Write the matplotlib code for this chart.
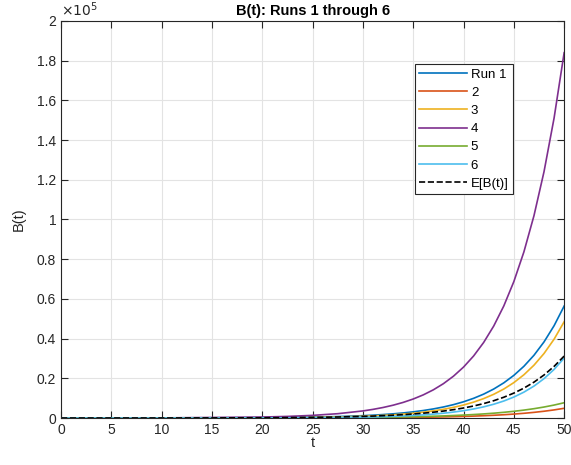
import matplotlib
matplotlib.use("Agg")
import matplotlib.pyplot as plt
from matplotlib.ticker import FuncFormatter

plt.rcParams['font.family'] = ['Liberation Sans', 'DejaVu Sans']

# values (t = 0, 10, 20, 22.5, 25, 27.5, then every 1 from 30 to 50)
t = [0, 10, 20, 22.5, 25, 27.5] + list(range(30, 51))
run1 = [3.6, 25, 172, 279, 452, 734,
        1189, 1442, 1749, 2121, 2572, 3120, 3784, 4589, 5566, 6750, 8187,
        9930, 12040, 14610, 17720, 21490, 26060, 31610, 38340, 46500, 56400]
run2 = [0.6, 3.6, 22, 35, 54, 85,
        134, 160, 192, 230, 275, 329, 394, 472, 565, 677, 810,
        970, 1161, 1390, 1664, 1993, 2385, 2856, 3419, 4093, 4900]
run3 = [2.2, 16, 120, 198, 327, 539,
        888, 1084, 1324, 1618, 1976, 2413, 2948, 3600, 4398, 5372, 6561,
        8014, 9789, 11960, 14600, 17840, 21790, 26610, 32510, 39710, 48500]
run4 = [10, 70, 499, 818, 1340, 2187,
        3580, 4359, 5308, 6464, 7871, 9585, 11670, 14210, 17310, 21080, 25660,
        31250, 38060, 46340, 56430, 68720, 83680, 101900, 124100, 151100, 184000]
run5 = [2.1, 11, 56, 85, 128, 192,
        289, 341, 402, 473, 558, 657, 774, 912, 1075, 1267, 1493,
        1759, 2073, 2442, 2878, 3391, 3995, 4707, 5546, 6535, 7700]
run6 = [0.8, 6.8, 55, 94, 158, 268,
        453, 559, 689, 850, 1049, 1294, 1597, 1970, 2430, 2998, 3699,
        4563, 5629, 6945, 8567, 10570, 13040, 16080, 19840, 24480, 30200]
mean_b = [3.5, 21.5, 133, 209, 330, 520,
          819, 982, 1179, 1414, 1696, 2035, 2441, 2928, 3512, 4214, 5055,
          6064, 7274, 8726, 10470, 12560, 15060, 18070, 21680, 26010, 31200]

runs = [run1, run2, run3, run4, run5, run6]
labels = ['Run 1', '2', '3', '4', '5', '6']
colors = ['#0072BD', '#D95319', '#EDB120', '#7E2F8E', '#77AC30', '#4DBEEE']

fig = plt.figure(figsize=(5.71, 4.65), dpi=100)
ax = fig.add_axes([0.107, 0.101, 0.881, 0.854])

for vals, lab, c in zip(runs, labels, colors):
    ax.plot(t, vals, color=c, lw=1.2, label=lab)
ax.plot(t, mean_b, 'k--', lw=1.2, label='E[B(t)]')

ax.set_xlim(0, 50)
ax.set_ylim(0, 2e5)
ax.set_xticks(range(0, 51, 5))
ax.set_yticks([i * 0.2e5 for i in range(11)])
ax.yaxis.set_major_formatter(FuncFormatter(lambda v, p: f"{v / 1e5:g}"))

ax.grid(True, color='#e3e3e3', lw=0.8)
ax.set_axisbelow(True)
ax.tick_params(direction='in', length=5, top=True, right=True,
               labelsize=10, colors='#262626', width=0.8)
for s in ax.spines.values():
    s.set_color('#262626')
    s.set_linewidth(0.8)

ax.set_xlabel('t', fontsize=10.5, color='#262626', labelpad=-1)
ax.set_ylabel('B(t)', fontsize=10.5, color='#262626', labelpad=8)
ax.set_title('B(t): Runs 1 through 6', fontsize=10.5, fontweight='bold', pad=4)
ax.text(0.0, 1.005, r'$\times10^5$', transform=ax.transAxes, fontsize=10,
        color='#262626', ha='left', va='bottom')

leg = ax.legend(loc='upper right', bbox_to_anchor=(0.899, 0.892), fontsize=9.5,
                handlelength=3.6, handletextpad=0.3, labelspacing=0.45,
                borderpad=0.35, borderaxespad=0, fancybox=False, framealpha=1)
leg.get_frame().set_edgecolor('#262626')
leg.get_frame().set_linewidth(0.8)

fig.savefig('out.png', dpi=100)
